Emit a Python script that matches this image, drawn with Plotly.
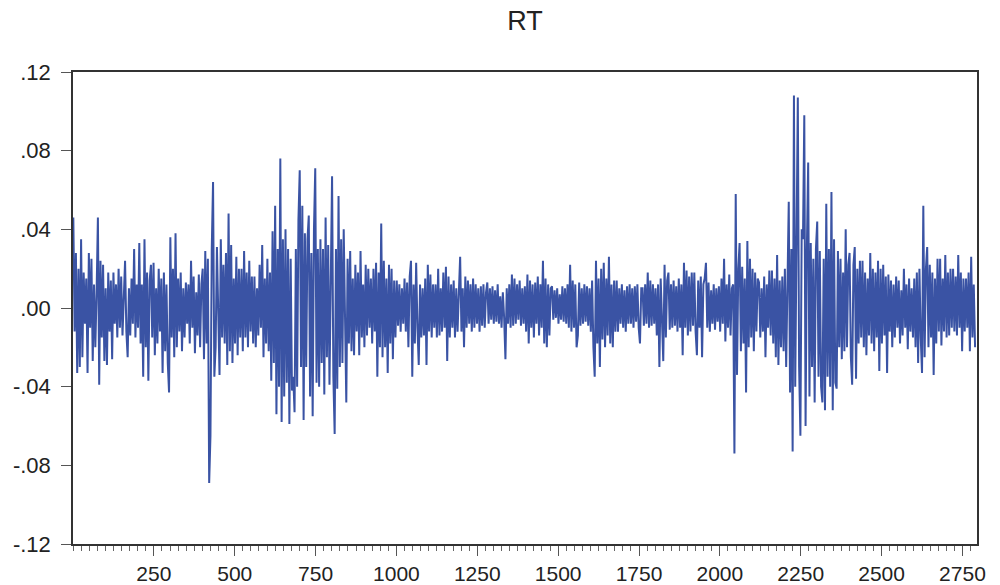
import numpy as np
import plotly.graph_objects as go

# Daily return series RT, in thousandths, one value every 4th observation
rt_part1 = [
    46, -12, 28, -33, 20, -30, 35, -25, 18, -8,
    15, -33, 28, -10, 25, -27, 12, -20, 8, 46,
    -39, 24, -15, 22, -27, 10, -29, 18, -12, 14,
    -26, 18, -8, 12, -15, 20, -10, 16, -14, 8,
    24, -12, -25, 10, -14, 15, -8, 30, -15, 12,
    -10, 33, -18, 12, -35, 35, -20, 18, -37, 14,
    22, -15, 23, -24, 10, -18, 20, -12, 15, -33,
    18, -22, 12, -28, -43, 36, -15, 20, -25, 38,
    -20, 15, -12, 18, -22, 10, -15, 13, -8, 12,
    -18, 24, -10, 16, -23, 8, -14, 17, -20, 12,
    20, -26, 29, -18, 25, -89, -65, 30, 64, -35,
    -20, 31, -12, -34, 35, -15, 22, -18, 28, -29,
    48, -22, 32, -28, 15, -18, 26, -24, 20, -15,
    20, -22, 29, -15, 18, -20, 24, -12, 16, -18,
    16, -20, 10, -14, 22, -10, 32, -25, 15, -18,
    25, -22, 18, -37, 39, -28, 52, -54, 30, -40,
    76, -58, 35, -45, 40, -38, 30, -59, 25, -42,
    -35, -53, 30, -40, 45, 70, -30, 52, -57, 38,
    -30, 35, 47, -45, 28, -55, 40, 71, -38, 30,
    -40, 35, -28, 30, -44, 46, -25, 32, -39, 28,
    67, -35, -64, 30, -41, 57, -30, 35, -28, 40,
    -20, -48, 25, -18, 29, -22, 15, -24, 22, -12,
    18, -24, 29, -15, 12, -20, 22, -14, 20, -10,
    15, -18, 20, -12, 23, -35, 18, -20, 43, -25,
]
rt_part2 = [
    24, -20, 15, -33, 22, -18, 20, -26, 14, -15,
    14, -9, 12, -12, 10, -8, 15, -12, 13, -20,
    16, 24, -35, 12, -18, 23, -10, -29, 12, -15,
    10, -14, 15, -29, 22, -12, 17, -15, 12, -10,
    12, -15, 20, -14, 10, -12, 18, -10, 21, -27,
    16, -15, 12, -10, 14, -15, 10, -12, 8, 26,
    -12, 10, -20, 16, -10, 14, -8, 12, -12, 15,
    -10, 12, -8, 10, -12, 11, -9, 12, -10, 8,
    13, -8, 10, -6, 11, -8, 9, -7, 12, -8,
    6, -10, 8, -5, -26, 10, -8, 12, -10, 17,
    -9, 15, -8, 12, -6, 14, -9, 10, -8, 11,
    -12, 17, -18, 14, -10, 12, -15, 13, -8, 16,
    -14, 12, -10, 24, -18, 15, -20, 12, -14, 10,
    11, -6, 9, -5, 10, -8, 7, -6, 11, -7,
    10, -8, 12, -10, 22, -12, 14, -10, 12, -20,
    -14, 13, -9, 10, -8, 12, -7, 11, -9, 10,
    -12, 14, -20, -35, 24, -18, 15, -30, 20, -16,
    23, -20, 15, -14, 26, -18, 12, -20, 14, -12,
    14, -12, 10, -8, 12, -10, 9, -12, 11, -8,
    12, -8, 10, -10, 11, -7, 12, -10, -18, 10,
    10, -9, 12, -8, 18, -10, 14, -9, 12, -8,
    10, -14, 12, -30, 15, -12, -27, 22, -15, 14,
    18, -11, 12, -10, 14, -9, 11, -12, 15, -10,
]
rt_part3 = [
    12, -24, 23, -10, 19, -14, 16, -12, 18, -9,
    18, -12, -24, 14, -10, 16, -25, 12, 15, 23,
    -10, 13, -12, 9, -8, 12, -11, 10, -7, 11,
    -12, 15, -8, 25, -17, 12, -10, 17, -14, 10,
    12, -74, 58, -34, 20, 33, -22, 21, -18, 15,
    -43, 34, -20, 25, -15, 20, -22, 18, -12, 15,
    13, -15, 10, -12, 16, -25, 12, -10, 19, -14,
    19, -18, 15, -25, 27, -29, 14, -20, 16, -22,
    20, -30, 25, 54, -43, 30, -73, 108, -40, 35,
    107, -30, -65, 40, 35, 98, -60, 30, 74, -45,
    33, -30, 25, -48, 30, 44, -35, 29, -40, -48,
    25, -52, 53, -35, 30, -40, 59, -52, 35, -38,
    -41, 29, -20, 25, -26, 18, -22, 40, -20, 22,
    28, -25, -39, 22, 31, -36, 20, -18, 24, -15,
    24, -20, 18, -24, 15, -14, 28, -18, 20, -22,
    18, -15, 24, -32, 20, -18, 22, -14, 16, -33,
    17, -12, 14, -20, 12, -15, 16, -10, 14, -18,
    9, -14, 20, -10, 12, -21, 15, -12, 10, -15,
    15, -20, 18, -28, 20, -15, -33, 52, -25, 20,
    31, -20, 22, -15, 18, -34, 15, -18, 25, -12,
    25, -19, 15, -12, 27, -15, 18, -14, 20, -10,
    20, -12, 16, -14, 27, -10, 18, -22, 15, -12,
    15, -10, 18, -22, 26, -15, 12, -20,
]

y_tick_vals = [0.12, 0.08, 0.04, 0.0, -0.04, -0.08, -0.12]
y_tick_text = [".12", ".08", ".04", ".00", "-.04", "-.08", "-.12"]
x_tick_vals = [250, 500, 750, 1000, 1250, 1500, 1750, 2000, 2250, 2500, 2750]

rt = np.array(rt_part1 + rt_part2 + rt_part3) / 1000.0
obs = 1 + 4 * np.arange(len(rt))

fig = go.Figure()
fig.add_trace(go.Scatter(
    x=obs, y=rt, mode="lines",
    line=dict(color="#3A53A4", width=2.0),
    showlegend=False, hoverinfo="skip",
))

font_family = "Liberation Sans, Arial, sans-serif"

fig.update_layout(
    width=1000, height=585,
    margin=dict(l=73, r=23, t=72, b=41),
    paper_bgcolor="white", plot_bgcolor="white",
    title=dict(
        text="RT", x=0.525, xanchor="center", y=0.965, yanchor="middle",
        font=dict(family=font_family, size=27, color="#222222"),
    ),
)
fig.update_xaxes(
    range=[0, 2795], showgrid=False, zeroline=False, automargin=False,
    showline=True, mirror=True, linecolor="#333333", linewidth=1.6,
    tickmode="array", tickvals=x_tick_vals,
    ticks="outside", ticklen=10, tickwidth=1.2, tickcolor="#555555",
    minor=dict(dtick=25, tick0=0, ticks="outside", ticklen=5, tickwidth=1, tickcolor="#666666"),
    tickfont=dict(family=font_family, size=21, color="#222222"), ticklabelstandoff=0,
)
fig.update_yaxes(
    range=[-0.12, 0.12], showgrid=False, zeroline=False, automargin=False,
    showline=True, mirror=True, linecolor="#333333", linewidth=1.6,
    tickmode="array", tickvals=y_tick_vals, ticktext=y_tick_text,
    ticks="outside", ticklen=10, tickwidth=1.2, tickcolor="#555555",
    tickfont=dict(family=font_family, size=22, color="#222222"), ticklabelstandoff=6,
)

fig.write_html("out.html")
